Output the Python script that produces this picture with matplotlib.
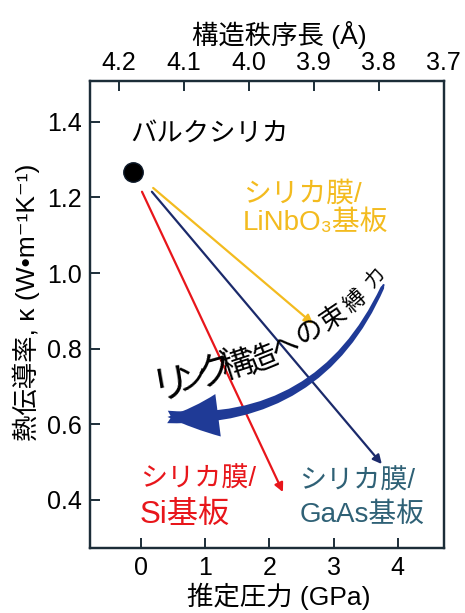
import matplotlib
matplotlib.use("Agg")
import matplotlib.pyplot as plt
from matplotlib.patches import FancyArrowPatch

plt.rcParams['font.family'] = ['Liberation Sans', 'Noto Sans CJK JP', 'DejaVu Sans']

# bulk silica point
bulk_p = [-0.125]
bulk_k = [1.268]

# film arrows: start (bulk) -> end (film on substrate)
substrates = ['Si', 'GaAs', 'LiNbO3']
start_p = [0.016, 0.17, 0.19]
start_k = [1.215, 1.215, 1.225]
end_p = [2.21, 3.75, 2.68]
end_k = [0.421, 0.495, 0.866]
arrow_colors = ['#e8161b', '#1b2a6b', '#f3bb1f']

# big curved arrow (ring-structure constraint)
curve_start = (3.80, 0.977)
curve_end = (0.37, 0.62)

# axis ticks
x_ticks = [0, 1, 2, 3, 4]
y_ticks = [0.4, 0.6, 0.8, 1.0, 1.2, 1.4]
top_ticks = [4.2, 4.1, 4.0, 3.9, 3.8, 3.7]

frame = '#1c2d38'
big_blue = '#1f3a96'

fig = plt.figure(figsize=(4.65, 6.13), dpi=100)
ax = fig.add_axes([0.1935, 0.106, 0.761, 0.762])

ax.plot(bulk_p, bulk_k, 'o', color='black', markersize=14,
        markeredgecolor='#0d1a2a', zorder=5)

for sp, sk, ep, ek, c in zip(start_p, start_k, end_p, end_k, arrow_colors):
    ax.annotate('', xy=(ep, ek), xytext=(sp, sk),
                arrowprops=dict(arrowstyle='-|>', color=c, lw=1.6,
                                mutation_scale=13, shrinkA=0, shrinkB=0))

# tapered body: drawn from the tip backwards so it is thick near the head
body = FancyArrowPatch(posA=curve_end, posB=curve_start,
                       connectionstyle='arc3,rad=0.35',
                       arrowstyle='fancy,head_length=0.1,head_width=0.1,tail_width=0.32',
                       mutation_scale=28, color=big_blue, lw=0, zorder=4)
ax.add_patch(body)
head = FancyArrowPatch(posA=curve_start, posB=curve_end,
                       connectionstyle='arc3,rad=-0.35',
                       arrowstyle='simple,head_length=1.3,head_width=1.1,tail_width=0.05',
                       mutation_scale=28, color=big_blue, lw=0, zorder=4)
ax.add_patch(head)

# curved label along the big arrow
chars = ['リ', 'ン', 'グ', '構', '造', 'へ', 'の', '束', '縛', '力']
char_p = [0.47, 0.80, 1.18, 1.50, 1.90, 2.24, 2.62, 3.00, 3.34, 3.65]
char_k = [0.705, 0.716, 0.738, 0.752, 0.767, 0.804, 0.844, 0.882, 0.924, 0.987]
char_size = [29, 23, 27, 23, 22, 20, 20, 19, 16, 14]
char_rot = [10, 13, 16, 18, 22, 26, 30, 34, 42, 50]
for ch, p, k, s, r in zip(chars, char_p, char_k, char_size, char_rot):
    ax.text(p, k, ch, fontsize=s, rotation=r, ha='center', va='center',
            rotation_mode='anchor', color='black', zorder=6)

ax.text(-0.17, 1.366, 'バルクシリカ', fontsize=19, ha='left', va='center')
ax.text(1.59, 1.207, 'シリカ膜/', fontsize=20, color='#f3bb1f', ha='left', va='center')
ax.text(1.59, 1.133, 'LiNbO₃基板', fontsize=20, color='#f3bb1f', ha='left', va='center')
ax.text(-0.016, 0.453, 'シリカ膜/', fontsize=19.5, color='#e8161b', ha='left', va='center')
ax.text(-0.016, 0.360, 'Si基板', fontsize=22.5, color='#e8161b', ha='left', va='center')
ax.text(2.47, 0.448, 'シリカ膜/', fontsize=19.5, color='#2f6176', ha='left', va='center')
ax.text(2.47, 0.360, 'GaAs基板', fontsize=20, color='#2f6176', ha='left', va='center')

ax.set_xlim(-0.794, 4.716)
ax.set_ylim(0.273, 1.508)
ax.set_xticks(x_ticks)
ax.set_yticks(y_ticks)
ax.set_yticklabels([f'{v:.1f}' for v in y_ticks])
ax.tick_params(direction='in', length=7, width=1.4, labelsize=18, color=frame, pad=6)

ax.set_xlabel('推定圧力 (GPa)', fontsize=19)
ax.xaxis.set_label_coords(0.534, -0.075)
ax.set_ylabel('熱伝導率, κ (W•m⁻¹K⁻¹)', fontsize=19)
ax.yaxis.set_label_coords(-0.14, 0.525)

top = ax.twiny()
top.set_xlim(4.2445, 3.6999)
top.set_xticks(top_ticks)
top.set_xticklabels([f'{v:.1f}' for v in top_ticks])
top.tick_params(direction='in', length=7, width=1.4, labelsize=18, color=frame, pad=4)
top.set_xlabel('構造秩序長 (Å)', fontsize=19)
top.xaxis.set_label_coords(0.534, 1.079)

for a in (ax, top):
    for s in a.spines.values():
        s.set_color(frame)
        s.set_linewidth(1.6)

fig.savefig('out.png', dpi=100)
